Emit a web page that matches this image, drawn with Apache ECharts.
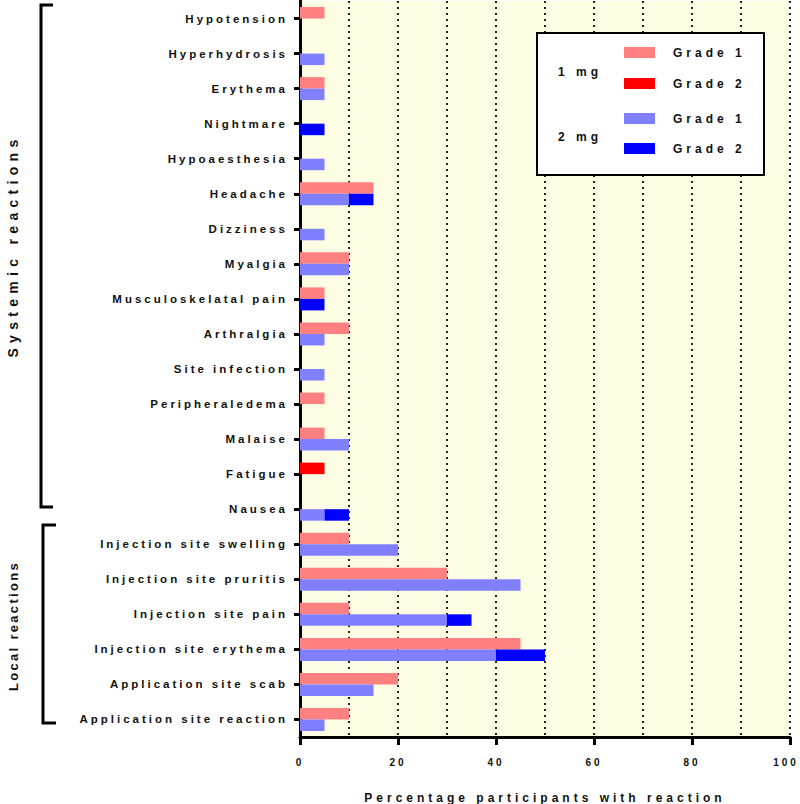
<!DOCTYPE html>
<html>
<head>
<meta charset="utf-8">
<script src="https://cdn.jsdelivr.net/npm/echarts@6/dist/echarts.min.js"></script>
<style>
html, body { margin: 0; padding: 0; background: #fff; }
#chart { width: 800px; height: 804px; }
#chart svg text { letter-spacing: 3px; }
#chart svg text[style*="12px"] { letter-spacing: 4px; }
#chart svg text[style*="13px"] { letter-spacing: 2.3px; }
#chart svg text[style*="14px"] { letter-spacing: 5.3px; }
</style>
</head>
<body>
<div id="chart"></div>
<script>
var categories = ['Hypotension','Hyperhydrosis','Erythema','Nightmare','Hypoaesthesia','Headache','Dizziness','Myalgia','Musculoskelatal pain','Arthralgia','Site infection','Peripheraledema','Malaise','Fatigue','Nausea','Injection site swelling','Injection site pruritis','Injection site pain','Injection site erythema','Application site scab','Application site reaction'];
var dose1Grade1 = [5,0,5,0,0,15,0,10,5,10,0,5,5,0,0,10,30,10,45,20,10];
var dose1Grade2 = [0,0,0,0,0,0,0,0,0,0,0,0,0,5,0,0,0,0,0,0,0];
var dose2Grade1 = [0,5,5,0,5,10,5,10,0,5,5,0,10,0,5,20,45,30,40,15,5];
var dose2Grade2 = [0,0,0,5,0,5,0,0,5,0,0,0,0,0,5,0,0,5,10,0,0];
var xTicks = [0,20,40,60,80,100];

var FONT = 'Liberation Sans, Arial, sans-serif';
var chart = echarts.init(document.getElementById('chart'), null, {renderer: 'svg'});

function bar(name, stack, data, color) {
  return {
    name: name, type: 'bar', stack: stack, data: data,
    barWidth: 11.5, barGap: '0%',
    itemStyle: {color: color},
    emphasis: {disabled: true}
  };
}

var option = {
  animation: false,
  grid: {left: 300, right: 10, top: 1, bottom: 67, show: true, backgroundColor: '#fdfde4', borderWidth: 0, outerBoundsMode: 'none', containLabel: false},
  xAxis: {
    type: 'value', min: xTicks[0], max: xTicks[xTicks.length - 1], interval: 20,
    axisLine: {show: true, lineStyle: {color: '#000', width: 3}},
    axisTick: {show: true, length: 8, lineStyle: {color: '#000', width: 3}},
    minorTick: {show: false, splitNumber: 2},
    splitLine: {show: true, lineStyle: {color: '#222', width: 2, type: [2, 4]}},
    minorSplitLine: {show: true, lineStyle: {color: '#222', width: 2, type: [2, 4]}},
    axisLabel: {
      margin: 20, fontSize: 10, fontWeight: 'bold', color: '#111', fontFamily: FONT,
      formatter: function (v) { return v === xTicks[xTicks.length - 1] ? '{m|' + v + '}' : String(v); },
      rich: {m: {fontSize: 10, fontWeight: 'bold', color: '#111', fontFamily: FONT, padding: [0, 8, 0, 0]}}
    },
    name: 'Percentage participants with reaction',
    nameLocation: 'middle', nameGap: 55,
    nameTextStyle: {fontSize: 12, fontWeight: 'bold', color: '#111', fontFamily: FONT}
  },
  yAxis: {
    type: 'category', data: categories, inverse: true,
    axisLine: {show: true, lineStyle: {color: '#000', width: 3}},
    axisTick: {show: true, alignWithLabel: true, length: 6, lineStyle: {color: '#000', width: 3}},
    splitLine: {show: false},
    axisLabel: {margin: 12, fontSize: 11.5, fontWeight: 'bold', color: '#111', fontFamily: FONT, interval: 0, padding: [5, 0, 0, 0]}
  },
  legend: [
    {
      data: ['1 mg Grade 1', '1 mg Grade 2'], orient: 'vertical', left: 624, top: 46.5,
      padding: 0, itemWidth: 31, itemHeight: 11, itemGap: 19, icon: 'rect', z: 6,
      selectedMode: false,
      formatter: function (n) { return n.replace('1 mg ', ''); },
      textStyle: {fontSize: 12, fontWeight: 'bold', color: '#111', fontFamily: FONT, padding: [0, 0, 0, 13], lineHeight: 12}
    },
    {
      data: ['2 mg Grade 1', '2 mg Grade 2'], orient: 'vertical', left: 624, top: 112.5,
      padding: 0, itemWidth: 31, itemHeight: 11, itemGap: 18, icon: 'rect', z: 6,
      selectedMode: false,
      formatter: function (n) { return n.replace('2 mg ', ''); },
      textStyle: {fontSize: 12, fontWeight: 'bold', color: '#111', fontFamily: FONT, padding: [0, 0, 0, 13], lineHeight: 12}
    }
  ],
  graphic: [
    {type: 'rect', z: 5, shape: {x: 537, y: 33, width: 227, height: 142}, style: {fill: '#fff', stroke: '#000', lineWidth: 2}},
    {type: 'text', z: 6, left: 558, top: 66, style: {text: '1 mg', font: 'bold 12px ' + FONT, fill: '#111'}},
    {type: 'text', z: 6, left: 558, top: 131, style: {text: '2 mg', font: 'bold 12px ' + FONT, fill: '#111'}},
    {type: 'polyline', z: 5, shape: {points: [[53, 5], [41, 5], [41, 507], [53, 507]]}, style: {stroke: '#000', lineWidth: 3, fill: null}},
    {type: 'polyline', z: 5, shape: {points: [[56, 525], [43, 525], [43, 723], [56, 723]]}, style: {stroke: '#000', lineWidth: 3, fill: null}},
    {type: 'text', z: 6, x: 13, y: 246, rotation: Math.PI / 2, style: {text: 'Systemic reactions', font: 'bold 14px ' + FONT, fill: '#111', align: 'center', verticalAlign: 'middle'}},
    {type: 'text', z: 6, x: 13, y: 626, rotation: Math.PI / 2, style: {text: 'Local reactions', font: 'bold 13px ' + FONT, fill: '#111', align: 'center', verticalAlign: 'middle'}}
  ],
  series: [
    bar('1 mg Grade 1', 'd1', dose1Grade1, '#ff8080'),
    bar('1 mg Grade 2', 'd1', dose1Grade2, '#ff0000'),
    bar('2 mg Grade 1', 'd2', dose2Grade1, '#8080ff'),
    bar('2 mg Grade 2', 'd2', dose2Grade2, '#0000ff')
  ]
};
chart.setOption(option);
</script>
</body>
</html>
